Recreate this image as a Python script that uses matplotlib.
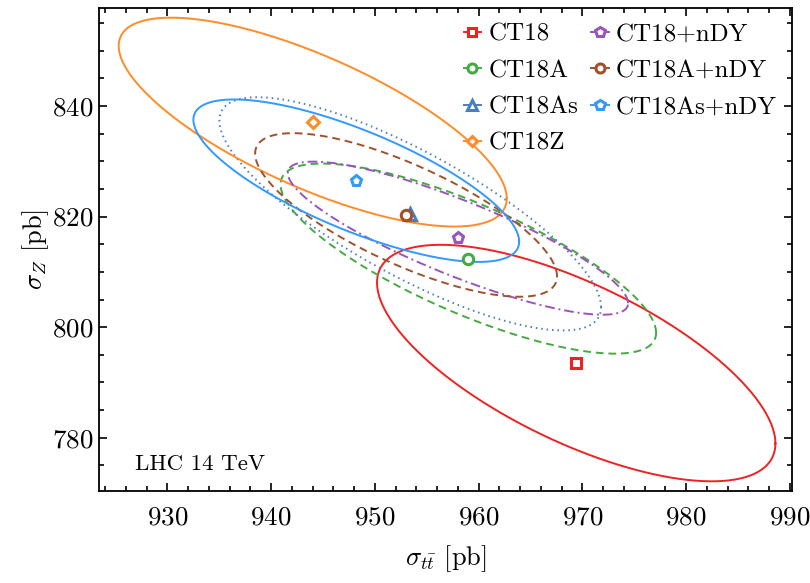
import numpy as np
import matplotlib
matplotlib.use("Agg")
import matplotlib.pyplot as plt
from matplotlib.lines import Line2D
from matplotlib.ticker import MultipleLocator

plt.rcParams['font.family'] = 'cmr10'
plt.rcParams['mathtext.fontset'] = 'cm'
plt.rcParams['axes.formatter.use_mathtext'] = True

# central values and error ellipses
names = ["CT18", "CT18A", "CT18As", "CT18Z", "CT18+nDY", "CT18A+nDY", "CT18As+nDY"]
sig_tt = [969.4, 959.0, 953.4, 944.0, 958.0, 953.0, 948.2]
sig_z = [793.5, 812.4, 820.5, 837.1, 816.1, 820.3, 826.5]
half_tt = [19.2, 18.1, 18.4, 18.7, 16.4, 14.55, 15.7]
half_z = [21.4, 17.2, 21.1, 18.9, 13.85, 14.8, 14.7]
corr = [-0.68, -0.78, -0.80, -0.73, -0.85, -0.75, -0.75]

colors = ["#EE2222", "#44AA44", "#4A7FC0", "#FF8C28", "#9955BB", "#A0522D", "#3399FF"]
markers = ["s", "o", "^", "D", "p", "o", "p"]
msizes = [7, 7.5, 8, 6.5, 8, 7.5, 8]
styles = ["-", (0, (4, 2.5)), (0, (0.8, 2.0)), "-", (0, (5, 2, 1, 2)), (0, (4, 2.5)), "-"]

fig = plt.figure(figsize=(8.1, 5.83), dpi=100)
ax = fig.add_axes([0.1222, 0.1583, 0.8556, 0.8275])

t = np.linspace(0, 2 * np.pi, 400)
for i in range(len(names)):
    r = corr[i]
    ex = sig_tt[i] + half_tt[i] * np.cos(t)
    ey = sig_z[i] + half_z[i] * (r * np.cos(t) + np.sqrt(1 - r * r) * np.sin(t))
    ax.plot(ex, ey, color=colors[i], linestyle=styles[i], lw=1.4)

handles = []
for i in range(len(names)):
    ax.plot(sig_tt[i], sig_z[i], marker=markers[i], ms=msizes[i], mfc="white",
            mec=colors[i], mew=2.2, ls="none", zorder=5)
    handles.append(Line2D([0], [0], color=colors[i], lw=1.4, marker=markers[i],
                          ms=msizes[i] - 1, mfc="white", mec=colors[i], mew=2.2))

ax.legend(handles, names, ncol=2, loc="upper right", frameon=False, fontsize=18,
          handlelength=0.7, handletextpad=0.3, columnspacing=0.5, labelspacing=0.55,
          borderaxespad=0.2, bbox_to_anchor=(1.0, 1.0))

ax.text(0.052, 0.054, "LHC 14 TeV", transform=ax.transAxes, fontsize=16.5,
        va="center", ha="left")

ax.set_xlim(923.4, 990.2)
ax.set_ylim(770.4, 857.7)
ax.xaxis.set_major_locator(MultipleLocator(10))
ax.xaxis.set_minor_locator(MultipleLocator(2))
ax.yaxis.set_major_locator(MultipleLocator(20))
ax.yaxis.set_minor_locator(MultipleLocator(5))
ax.tick_params(which="both", direction="in", top=True, right=True, labelsize=19.5, width=1.2)
ax.tick_params(which="major", length=6)
ax.tick_params(which="minor", length=3.5)
ax.tick_params(axis="x", which="major", pad=11)
ax.tick_params(axis="y", which="major", pad=4)
for s in ax.spines.values():
    s.set_linewidth(1.3)

ax.set_xlabel(r"$\sigma_{t\bar{t}}$ [pb]", fontsize=19, labelpad=10)
ax.set_ylabel(r"$\sigma_Z$ [pb]", fontsize=19, labelpad=1)

fig.savefig("out.png", dpi=100)
